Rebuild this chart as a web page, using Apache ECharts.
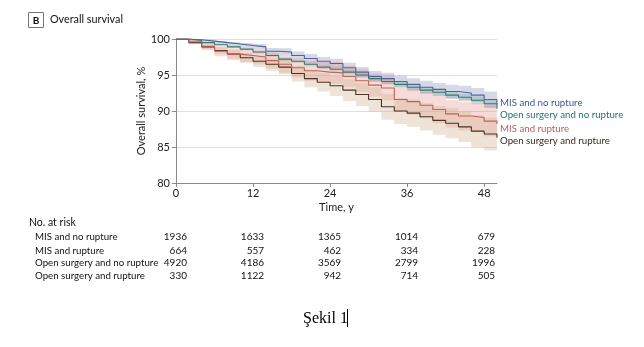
<!DOCTYPE html>
<html><head><meta charset="utf-8">
<script src="https://cdn.jsdelivr.net/npm/echarts@6/dist/echarts.min.js"></script>
<style>html,body{margin:0;padding:0;background:#fff}#c{width:644px;height:347px}</style>
</head><body><div id="c"></div>
<script>
var months = [0,2,4,6,8,10,12,14,16,18,20,22,24,26,28,30,32,34,36,38,40,42,44,46,48,50];

var misNoRupt      = [100,99.9,99.7,99.5,99.3,99.1,98.9,98.3,98.2,97.7,97.3,96.9,96.6,96.0,95.4,94.8,94.5,94.1,93.7,93.3,93.0,92.7,92.5,92.2,91.6,90.9];
var misNoRuptUp    = [100,100,99.9,99.75,99.6,99.45,99.3,98.75,98.7,98.25,97.9,97.5,97.25,96.7,96.1,95.55,95.3,94.9,94.55,94.2,93.9,93.65,93.5,93.2,92.7,92.1];
var misNoRuptLo    = [100,99.8,99.5,99.25,99.0,98.75,98.5,97.85,97.7,97.15,96.7,96.3,95.95,95.3,94.7,94.05,93.7,93.3,92.85,92.4,92.1,91.75,91.5,91.2,90.5,89.7];

var openNoRupt     = [100,99.8,99.5,99.2,98.9,98.6,98.2,97.7,97.2,96.9,96.5,96.1,95.8,95.4,95.0,94.5,94.1,93.7,93.3,92.9,92.6,92.2,91.9,91.5,91.0,90.3];
var openNoRuptUp   = [100,99.85,99.6,99.3,99.05,98.75,98.4,97.9,97.45,97.15,96.8,96.4,96.1,95.75,95.35,94.9,94.5,94.1,93.75,93.35,93.1,92.7,92.4,92.05,91.6,91.0];
var openNoRuptLo   = [100,99.75,99.4,99.1,98.75,98.45,98.0,97.5,96.95,96.65,96.2,95.8,95.5,95.05,94.65,94.1,93.7,93.3,92.85,92.45,92.1,91.7,91.4,90.95,90.4,89.6];

var misRupt        = [100,99.6,99.0,98.3,97.9,97.7,97.5,97.0,96.5,96.0,95.6,95.4,95.3,94.8,94.2,93.6,93.2,91.6,91.3,90.8,90.2,89.6,89.3,89.1,88.6,88.2];
var misRuptUp      = [100,99.9,99.5,99.0,98.7,98.6,98.5,98.1,97.7,97.3,97.0,96.8,96.8,96.3,95.8,95.2,94.9,93.3,93.1,92.6,92.1,91.5,91.3,91.1,90.7,90.3];
var misRuptLo      = [100,99.3,98.5,97.6,97.1,96.8,96.5,95.9,95.3,94.7,94.2,94.0,93.8,93.3,92.6,92.0,91.5,89.9,89.5,89.0,88.3,87.7,87.3,87.1,86.5,86.1];

var openRupt       = [100,99.5,98.9,98.4,97.9,97.4,96.9,96.5,96.1,95.2,94.5,94.0,93.5,92.9,92.3,91.6,90.6,90.0,89.7,89.2,88.7,88.3,87.8,87.2,86.8,86.3];
var openRuptUp     = [100,99.7,99.25,98.9,98.5,98.1,97.7,97.4,97.1,96.3,95.7,95.3,94.9,94.4,93.9,93.3,92.4,91.8,91.6,91.1,90.7,90.4,89.9,89.4,89.1,88.7];
var openRuptLo     = [100,99.3,98.55,97.9,97.3,96.7,96.1,95.6,95.1,94.1,93.3,92.7,92.1,91.4,90.7,89.9,88.8,88.2,87.8,87.3,86.7,86.2,85.7,85.0,84.5,83.9];

var groupNames = ["MIS and no rupture","Open surgery and no rupture","MIS and rupture","Open surgery and rupture"];
var xTicks = [0,12,24,36,48];

var riskRows = ["MIS and no rupture","MIS and rupture","Open surgery and no rupture","Open surgery and rupture"];
var riskMisNoRupt  = [1936,1633,1365,1014,679];
var riskMisRupt    = [664,557,462,334,228];
var riskOpenNoRupt = [4920,4186,3569,2799,1996];
var riskOpenRupt   = [330,1122,942,714,505];

var FONT = 'Lato';
var groups = [
  {name:groupNames[0], line:misNoRupt, up:misNoRuptUp, lo:misNoRuptLo, color:'#51639e', band:'rgba(120,138,185,0.32)', text:'#3b5898'},
  {name:groupNames[1], line:openNoRupt, up:openNoRuptUp, lo:openNoRuptLo, color:'#3a7a70', band:'rgba(110,160,150,0.30)', text:'#1f7668'},
  {name:groupNames[2], line:misRupt, up:misRuptUp, lo:misRuptLo, color:'#c0625a', band:'rgba(228,135,125,0.30)', text:'#b5615b'},
  {name:groupNames[3], line:openRupt, up:openRuptUp, lo:openRuptLo, color:'#4a3324', band:'rgba(205,172,135,0.34)', text:'#3a2a1c'}
];

function bandSeries(g){
  var data = months.map(function(m,k){ return [m, g.lo[k], g.up[k]]; });
  return {type:'custom', silent:true, z:1, data:data,
    encode:{x:0, y:[1,2]},
    renderItem:function(params, api){
      if (params.dataIndex !== 0) return null;
      var n = data.length, top = [], bot = [], k, a, b;
      for (k = 0; k < n; k++) {
        a = api.coord([data[k][0], data[k][2]]);
        if (k > 0) top.push([a[0], api.coord([data[k][0], data[k-1][2]])[1]]);
        top.push(a);
        if (k < n-1) { b = api.coord([data[k+1][0], data[k][2]]); top.push(b); }
      }
      for (k = n-1; k >= 0; k--) {
        if (k < n-1) bot.push(api.coord([data[k+1][0], data[k][1]]));
        bot.push(api.coord([data[k][0], data[k][1]]));
        if (k > 0) bot.push(api.coord([data[k][0], data[k-1][1]]));
      }
      return {type:'polygon', shape:{points:top.concat(bot)}, style:{fill:g.band}};
    }};
}

var series = [];
groups.forEach(function(g){ series.push(bandSeries(g)); });
groups.slice().reverse().forEach(function(g){
  series.push({type:'line', name:g.name, step:'end', symbol:'none', z:5,
    lineStyle:{color:g.color, width:1.1},
    data: months.map(function(m,k){return [m, g.line[k]];})});
});

var chart = echarts.init(document.getElementById('c'));
chart.setOption({
  animation:false,
  grid:{left:176, top:39, width:321, height:144},
  xAxis:{type:'value', min:0, max:50, interval:12,
    name:'Time, y', nameLocation:'middle', nameGap:19,
    nameTextStyle:{fontFamily:FONT, fontSize:11, color:'#222'},
    axisLine:{lineStyle:{color:'#8a8a8a'}},
    axisTick:{show:true, length:4, customValues:xTicks, lineStyle:{color:'#8a8a8a'}},
    axisLabel:{customValues:xTicks, fontFamily:FONT, fontSize:11, color:'#222', margin:5},
    splitLine:{show:false}},
  yAxis:{type:'value', min:80, max:100, interval:5,
    name:'Overall survival, %', nameLocation:'middle', nameGap:28, nameRotate:90,
    nameTextStyle:{fontFamily:FONT, fontSize:11, color:'#222'},
    axisLine:{show:true, lineStyle:{color:'#8a8a8a'}},
    axisTick:{show:true, length:4, lineStyle:{color:'#8a8a8a'}},
    axisLabel:{fontFamily:FONT, fontSize:11, color:'#222', margin:6},
    splitLine:{lineStyle:{color:'#dedede'}}},
  series:series
});

var gfx = [
  {type:'rect', shape:{x:28.5,y:12.5,width:15,height:15}, style:{fill:'#fff', stroke:'#777', lineWidth:1}},
  {type:'text', x:36, y:20.5, style:{text:'B', font:'bold 10px '+FONT, fill:'#111', align:'center', verticalAlign:'middle'}},
  {type:'text', x:50, y:20, style:{text:'Overall survival', font:'10.8px '+FONT, fill:'#111', verticalAlign:'middle'}},
  {type:'text', x:29, y:223, style:{text:'No. at risk', font:'10.5px '+FONT, fill:'#111', verticalAlign:'middle'}},
  {type:'text', x:303, y:319, style:{text:'Şekil 1', font:'16px "Liberation Serif"', fill:'#000', verticalAlign:'middle'}},
  {type:'line', shape:{x1:347.5,y1:309,x2:347.5,y2:327}, style:{stroke:'#000', lineWidth:1}}
];
var legendY = [103, 115, 129, 141];
groups.forEach(function(g,i){
  gfx.push({type:'text', x:500, y:legendY[i], style:{text:g.name, font:'9.7px '+FONT, fill:g.text, verticalAlign:'middle'}});
});
var riskData = [riskMisNoRupt, riskMisRupt, riskOpenNoRupt, riskOpenRupt];
var rowY = [237, 250.5, 263, 276];
riskRows.forEach(function(r,i){
  gfx.push({type:'text', x:35, y:rowY[i], style:{text:r, font:'9.7px '+FONT, fill:'#111', verticalAlign:'middle'}});
  xTicks.forEach(function(t,j){
    var px = chart.convertToPixel({xAxisIndex:0}, t);
    gfx.push({type:'text', x:px+11, y:rowY[i], style:{text:String(riskData[i][j]), font:'10px '+FONT, fill:'#111', align:'right', verticalAlign:'middle'}});
  });
});
chart.setOption({graphic:gfx});
</script></body></html>
